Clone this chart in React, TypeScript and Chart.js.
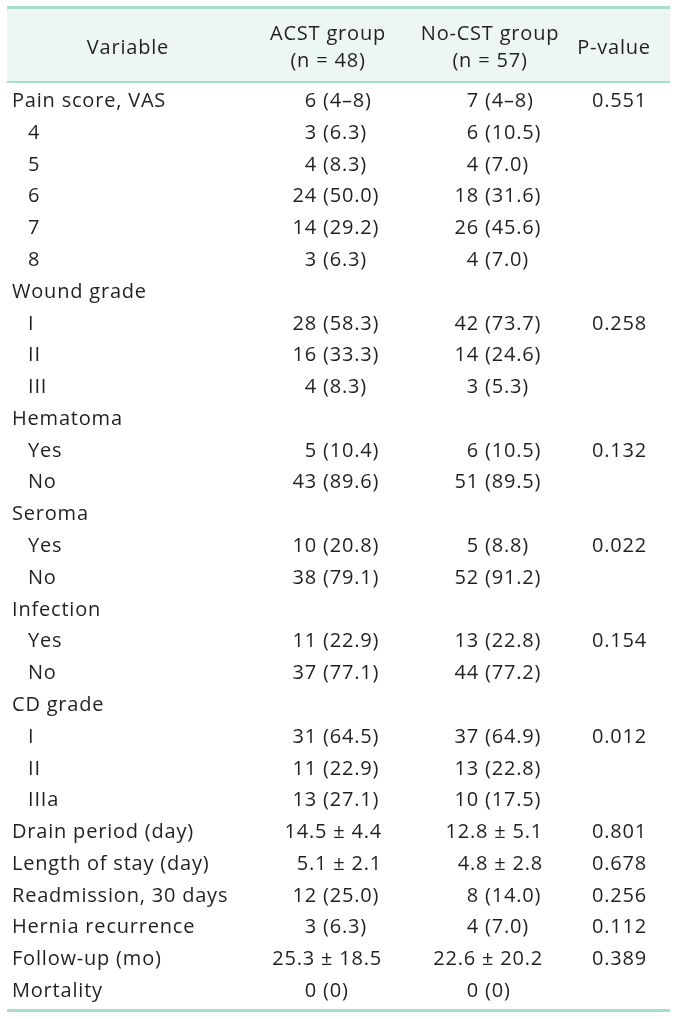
import React, { useEffect, useRef } from "react";
import { Chart, registerables } from "chart.js";

Chart.register(...registerables);

// ---- Table data ----
const headerVariable = "Variable";
const headerAcst = ["ACST group", "(n = 48)"];
const headerNoCst = ["No-CST group", "(n = 57)"];
const headerP = "P-value";

const variables = [
  "Pain score, VAS", "4", "5", "6", "7", "8",
  "Wound grade", "I", "II", "III",
  "Hematoma", "Yes", "No",
  "Seroma", "Yes", "No",
  "Infection", "Yes", "No",
  "CD grade", "I", "II", "IIIa",
  "Drain period (day)", "Length of stay (day)", "Readmission, 30 days",
  "Hernia recurrence", "Follow-up (mo)", "Mortality",
];
const indented = [
  false, true, true, true, true, true,
  false, true, true, true,
  false, true, true,
  false, true, true,
  false, true, true,
  false, true, true, true,
  false, false, false, false, false, false,
];
const acstValues = [
  "6 (4–8)", "3 (6.3)", "4 (8.3)", "24 (50.0)", "14 (29.2)", "3 (6.3)",
  "", "28 (58.3)", "16 (33.3)", "4 (8.3)",
  "", "5 (10.4)", "43 (89.6)",
  "", "10 (20.8)", "38 (79.1)",
  "", "11 (22.9)", "37 (77.1)",
  "", "31 (64.5)", "11 (22.9)", "13 (27.1)",
  "14.5 ± 4.4", "5.1 ± 2.1", "12 (25.0)", "3 (6.3)", "25.3 ± 18.5", "0 (0)",
];
const noCstValues = [
  "7 (4–8)", "6 (10.5)", "4 (7.0)", "18 (31.6)", "26 (45.6)", "4 (7.0)",
  "", "42 (73.7)", "14 (24.6)", "3 (5.3)",
  "", "6 (10.5)", "51 (89.5)",
  "", "5 (8.8)", "52 (91.2)",
  "", "13 (22.8)", "44 (77.2)",
  "", "37 (64.9)", "13 (22.8)", "10 (17.5)",
  "12.8 ± 5.1", "4.8 ± 2.8", "8 (14.0)", "4 (7.0)", "22.6 ± 20.2", "0 (0)",
];
const pValues = [
  "0.551", "", "", "", "", "",
  "", "0.258", "", "",
  "", "0.132", "",
  "", "0.022", "",
  "", "0.154", "",
  "", "0.012", "", "",
  "0.801", "0.678", "0.256", "0.112", "0.389", "",
];

// ---- Layout (positions / styles) ----
const W = 681;
const H = 1019;
const TEXT = "#231f20";
const RULE = "#a8dccd";
const HEAD_BG = "#ecf7f3";
const FONT = '20px "Open Sans"';
const SPACING = "0.8px";
const CAP = 7;
// column anchors in x-scale units (pixels of the 681-wide layout)
const COL = { label: 12, labelIndent: 28, acstParen: 323, acstRight: 382, noParen: 485, noRight: 543, p: 592 };
const HEAD = { variable: 128, acst: 328, no: 490, p: 614 };

function drawCell(ctx: CanvasRenderingContext2D, text: string, parenX: number, rightX: number, y: number) {
  if (!text) return;
  const idx = text.indexOf("(");
  if (idx > 0) {
    ctx.textAlign = "right";
    ctx.fillText(text.slice(0, idx), parenX, y);
    ctx.textAlign = "left";
    ctx.fillText(text.slice(idx), parenX, y);
  } else {
    ctx.textAlign = "right";
    ctx.fillText(text, rightX, y);
  }
}

const tablePlugin = {
  id: "tablePlugin",
  beforeDraw(chart: any) {
    const ctx = chart.ctx as CanvasRenderingContext2D;
    ctx.save();
    ctx.fillStyle = "#ffffff";
    ctx.fillRect(0, 0, W, H);
    ctx.fillStyle = HEAD_BG;
    ctx.fillRect(7, 8, 663, 74);
    ctx.fillStyle = RULE;
    ctx.fillRect(7, 6, 663, 3);
    ctx.fillRect(7, 81, 663, 2);
    ctx.fillRect(7, 1009, 663, 3);
    // header
    ctx.fillStyle = TEXT;
    ctx.font = FONT;
    (ctx as any).letterSpacing = SPACING;
    ctx.textBaseline = "alphabetic";
    ctx.textAlign = "center";
    ctx.fillText(headerVariable, HEAD.variable, 47 + CAP);
    ctx.fillText(headerAcst[0], HEAD.acst, 33 + CAP);
    ctx.fillText(headerAcst[1], HEAD.acst, 60 + CAP);
    ctx.fillText(headerNoCst[0], HEAD.no, 33 + CAP);
    ctx.fillText(headerNoCst[1], HEAD.no, 60 + CAP);
    ctx.fillText(headerP, HEAD.p, 47 + CAP);
    ctx.restore();
  },
  afterDatasetsDraw(chart: any) {
    const ctx = chart.ctx as CanvasRenderingContext2D;
    ctx.save();
    ctx.fillStyle = TEXT;
    ctx.font = FONT;
    (ctx as any).letterSpacing = SPACING;
    ctx.textBaseline = "alphabetic";
    chart.data.datasets.forEach((ds: any, di: number) => {
      const meta = chart.getDatasetMeta(di);
      meta.data.forEach((el: any, i: number) => {
        const y = el.y + CAP;
        const key = ds.key;
        if (key === "label") {
          ctx.textAlign = "left";
          ctx.fillText(variables[i], indented[i] ? COL.labelIndent : el.x, y);
        } else if (key === "acst") {
          drawCell(ctx, acstValues[i], el.x, COL.acstRight, y);
        } else if (key === "no") {
          drawCell(ctx, noCstValues[i], el.x, COL.noRight, y);
        } else if (key === "p" && pValues[i]) {
          ctx.textAlign = "left";
          ctx.fillText(pValues[i], el.x, y);
        }
      });
    });
    ctx.restore();
  },
};

export default function App() {
  const ref = useRef<HTMLCanvasElement | null>(null);
  useEffect(() => {
    document.body.style.margin = "0";
    if (!ref.current) return;
    const mk = (key: string, x: number) => ({
      key,
      data: variables.map((_, i) => ({ x, y: i })),
      pointRadius: 0,
      pointHoverRadius: 0,
      showLine: false,
    });
    const chart = new Chart(ref.current, {
      type: "scatter",
      data: {
        datasets: [
          mk("label", COL.label),
          mk("acst", COL.acstParen),
          mk("no", COL.noParen),
          mk("p", COL.p),
        ] as any,
      },
      options: {
        animation: false,
        responsive: false,
        devicePixelRatio: 1,
        layout: { padding: { top: 100, bottom: H - 990, left: 0, right: 0 } },
        plugins: { legend: { display: false }, tooltip: { enabled: false } },
        events: [],
        scales: {
          x: { type: "linear", min: 0, max: W, display: false },
          y: { type: "linear", min: 0, max: variables.length - 1, reverse: true, display: false },
        },
      },
      plugins: [tablePlugin],
    });
    return () => chart.destroy();
  }, []);
  return <canvas ref={ref} width={W} height={H} style={{ display: "block" }} />;
}
